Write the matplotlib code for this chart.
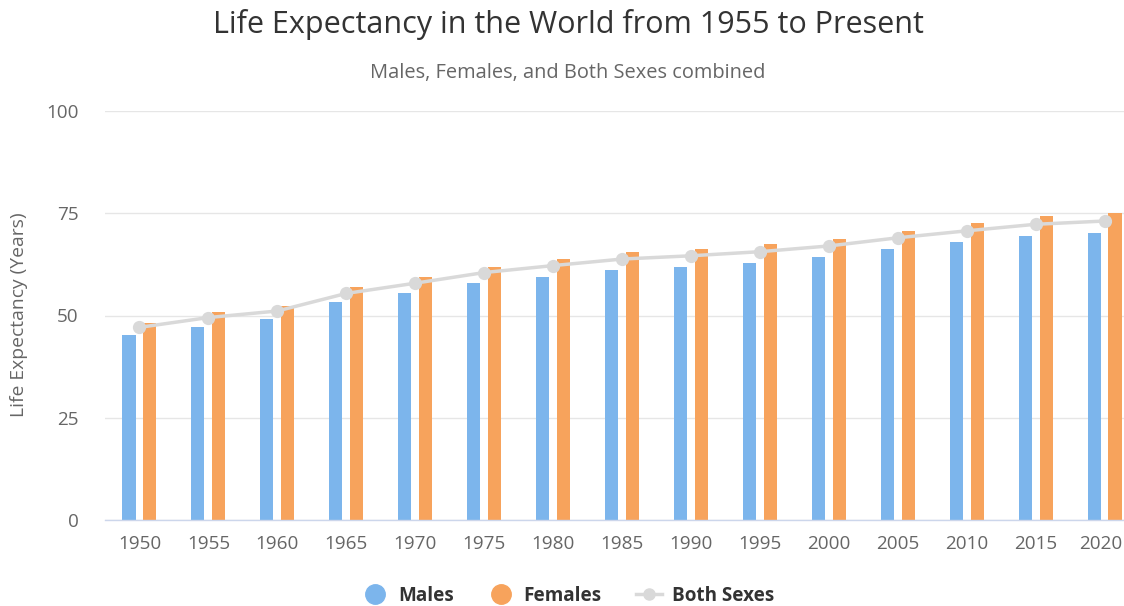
import matplotlib
matplotlib.use("Agg")
import matplotlib.pyplot as plt
from matplotlib.lines import Line2D
from matplotlib.transforms import ScaledTranslation
import numpy as np

plt.rcParams['font.family'] = ['Open Sans', 'DejaVu Sans']

years = ['1950', '1955', '1960', '1965', '1970', '1975', '1980', '1985',
         '1990', '1995', '2000', '2005', '2010', '2015', '2020']
males = [45.2, 47.3, 49.1, 53.2, 55.6, 58.0, 59.5, 61.1, 61.9, 62.8,
         64.4, 66.3, 67.9, 69.5, 70.2]
females = [48.1, 50.8, 52.4, 56.9, 59.5, 61.9, 63.9, 65.5, 66.3, 67.5,
           68.6, 70.7, 72.7, 74.3, 75.0]
both = [47.1, 49.5, 51.1, 55.4, 57.9, 60.5, 62.2, 63.8, 64.6, 65.6,
        67.0, 69.0, 70.7, 72.3, 73.1]
yticks = [0, 25, 50, 75, 100]

W, H = 1124, 606
fig = plt.figure(figsize=(W / 100, H / 100), dpi=100)
left, right, top, bottom = 105, 1139, 111, 520
ax = fig.add_axes([left / W, 1 - bottom / H, (right - left) / W, (bottom - top) / H])

x = np.arange(len(years))
bw = 0.19
off = 0.152
c_m = '#7cb5ec'
c_f = '#f7a35c'
c_b = '#d9d9d9'
ax.bar(x - off, males, width=bw, color=c_m, zorder=2)
ax.bar(x + off, females, width=bw, color=c_f, zorder=2)
ax.plot(x, both, color=c_b, lw=2.5, marker='o', ms=8.5, zorder=3)

ax.set_xlim(-0.5, len(years) - 0.5)
ax.set_ylim(0, 100)
ax.set_yticks(yticks)
ax.set_xticks(x)
ax.set_xticklabels(years)
ax.tick_params(axis='both', length=0, labelsize=13.6, labelcolor='#666666')
ax.tick_params(axis='x', pad=11)
ax.tick_params(axis='y', pad=19)
ax.grid(axis='y', color='#e6e6e6', lw=1, zorder=0)
ax.set_axisbelow(True)
for s in ['top', 'right', 'left']:
    ax.spines[s].set_visible(False)
ax.spines['bottom'].set_color('#ccd6eb')
ax.spines['bottom'].set_linewidth(1)
for lbl in ax.get_yticklabels():
    lbl.set_horizontalalignment('right')
# keep the last category label inside the canvas
last = ax.get_xticklabels()[-1]
last.set_transform(last.get_transform() + ScaledTranslation(-4 / 100, 0, fig.dpi_scale_trans))

fig.text(19 / W, 1 - 315 / H, 'Life Expectancy (Years)', rotation=90,
         ha='center', va='center', fontsize=13.9, color='#666666')

fig.text(568 / W, 1 - 25 / H, 'Life Expectancy in the World from 1955 to Present',
         ha='center', va='center', fontsize=22, color='#333333')
fig.text(568 / W, 1 - 73 / H, 'Males, Females, and Both Sexes combined',
         ha='center', va='center', fontsize=14.4, color='#666666')

handles = [
    Line2D([], [], ls='none', marker='o', ms=14, color=c_m),
    Line2D([], [], ls='none', marker='o', ms=14, color=c_f),
    Line2D([], [], color=c_b, lw=2.5, marker='o', ms=8),
]
leg = fig.legend(handles, ['Males', 'Females', 'Both Sexes'], loc='center',
                 bbox_to_anchor=(568 / W, 1 - 596 / H), ncol=3, frameon=False,
                 handlelength=1.4, columnspacing=1.8, handletextpad=0.5,
                 prop={'weight': 'bold', 'size': 13.6})
for t in leg.get_texts():
    t.set_color('#333333')

fig.savefig('out.png', dpi=100)
